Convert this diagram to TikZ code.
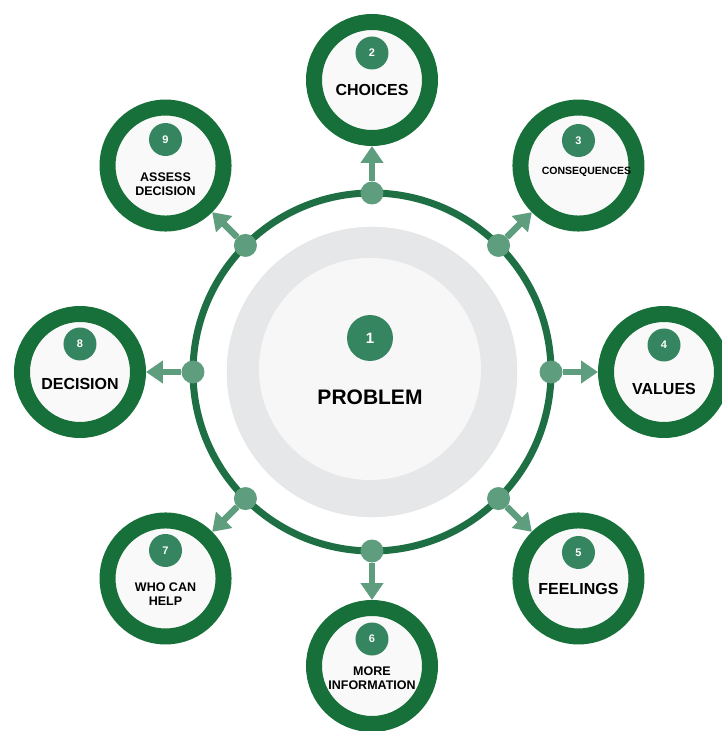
\documentclass[tikz,border=0pt]{standalone}
\usepackage{fontspec}
\setmainfont{Liberation Sans}
\usepackage{xcolor}
\usepackage{tikz}
\usetikzlibrary{arrows.meta}
\definecolor{ringgreen}{HTML}{1E6F43}
\definecolor{darkgreen}{HTML}{17703A}
\definecolor{sage}{HTML}{5E9E7E}
\definecolor{badgegreen}{HTML}{358560}
\definecolor{diskgray}{HTML}{E6E7E9}
\definecolor{paper}{HTML}{F8F9F8}

\begin{document}
\begin{tikzpicture}[x=1pt,y=1pt,
	sat/.style={circle,draw=darkgreen,line width=16pt,fill=paper,minimum size=116pt,inner sep=0pt},
	badge/.style={circle,fill=badgegreen,text=white,minimum size=33pt,inner sep=0pt,
		font=\bfseries\fontsize{11}{13}\selectfont},
	lbl/.style={text=black,align=center,font=\bfseries\fontsize{16}{18}\selectfont},
	lblsmall/.style={text=black,align=center,font=\bfseries\fontsize{12.5}{14}\selectfont},
	dot/.style={circle,fill=sage,minimum size=23pt,inner sep=0pt},
	link/.style={sage,line width=6.5pt,-{Triangle[width=22pt,length=17pt]}}]
					\useasboundingbox (-372,-359) rectangle (349,372);
					% big ring and centre disk
					\draw[ringgreen,line width=7pt] (0,0) circle (179);
					\node[circle,fill=diskgray,draw=black!10,minimum size=290pt] (disk) at (0,0) {};
					\node[circle,fill=white!97!black,minimum size=222pt] (core) at (-2,3) {};
					\node[badge,minimum size=46pt,font=\bfseries\fontsize{15}{17}\selectfont] (n1) at (-2,34) {1};
					\node[text=black,font=\bfseries\fontsize{21}{25}\selectfont] (t1) at (-2,-25) {PROBLEM};
					% dots on the ring
					\node[dot] (d2) at (90:179) {};
					\node[dot] (d3) at (45:179) {};
					\node[dot] (d4) at (0:179) {};
					\node[dot] (d5) at (-45:179) {};
					\node[dot] (d6) at (-90:179) {};
					\node[dot] (d7) at (-135:179) {};
					\node[dot] (d8) at (180:179) {};
					\node[dot] (d9) at (135:179) {};
					% outer circles
					\node[sat] (s2) at (90:292) {};
					\node[sat] (s3) at (45:292) {};
					\node[sat] (s4) at (0:292) {};
					\node[sat] (s5) at (-45:292) {};
					\node[sat] (s6) at (-90:294) {};
					\node[sat] (s7) at (-135:292) {};
					\node[sat] (s8) at (180:292) {};
					\node[sat] (s9) at (135:292) {};
					% arrows
					\draw[link] (d2) -- (s2);
					\draw[link] (d3) -- (s3);
					\draw[link] (d4) -- (s4);
					\draw[link] (d5) -- (s5);
					\draw[link] (d6) -- (s6);
					\draw[link] (d7) -- (s7);
					\draw[link] (d8) -- (s8);
					\draw[link] (d9) -- (s9);
					% numbers and labels
					\node[badge] (n2) at ([yshift=27pt]s2.center) {2};
					\node[lbl] (t2) at ([yshift=-10pt]s2.center) {CHOICES};
					\node[badge] (n3) at ([yshift=25pt]s3.center) {3};
					\node[text=black,font=\bfseries\fontsize{10.5}{12}\selectfont] (t3) at ([xshift=8pt,yshift=-6pt]s3.center) {CONSEQUENCES};
					\node[badge] (n4) at ([yshift=27pt]s4.center) {4};
					\node[lbl] (t4) at ([yshift=-17pt]s4.center) {VALUES};
					\node[badge] (n5) at ([yshift=26pt]s5.center) {5};
					\node[lbl] (t5) at ([yshift=-11pt]s5.center) {FEELINGS};
					\node[badge] (n6) at ([yshift=27pt]s6.center) {6};
					\node[lblsmall] (t6) at ([yshift=-12pt]s6.center) {MORE\\INFORMATION};
					\node[badge] (n7) at ([yshift=28pt]s7.center) {7};
					\node[lblsmall] (t7) at ([yshift=-16pt]s7.center) {WHO CAN\\HELP};
					\node[badge] (n8) at ([yshift=28pt]s8.center) {8};
					\node[lbl] (t8) at ([yshift=-12pt]s8.center) {DECISION};
					\node[badge] (n9) at ([yshift=26pt]s9.center) {9};
					\node[lblsmall] (t9) at ([yshift=-19pt]s9.center) {ASSESS\\DECISION};
				\end{tikzpicture}
\end{document}
